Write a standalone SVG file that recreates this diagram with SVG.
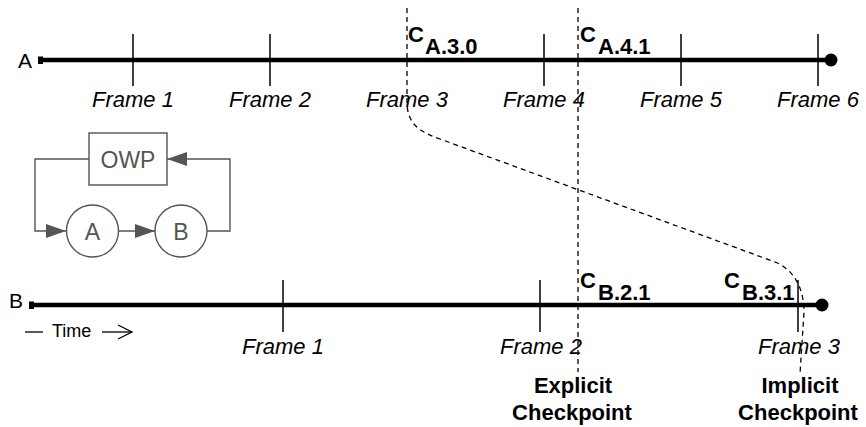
<svg xmlns="http://www.w3.org/2000/svg" width="866" height="427" viewBox="0 0 866 427">
<style>
text{font-family:"Liberation Sans",Arial,sans-serif;fill:#000}
.tl{stroke:#000;stroke-width:4.5;fill:none}
.tick{stroke:#000;stroke-width:1.5}
.fr{font-size:22px;font-style:italic;text-anchor:middle}
.c{font-size:22px;font-weight:bold}
.sub{font-size:22px;font-weight:bold}
.cp{font-size:22px;font-weight:bold;text-anchor:middle}
.dash{stroke:#000;stroke-width:1.3;stroke-dasharray:5,4;fill:none}
.g{stroke:#555;stroke-width:1.4;fill:none}
.gt{font-size:23px;fill:#555;text-anchor:middle}
.lbl{font-size:21px}
</style>
<defs>
<marker id="ah" markerWidth="20" markerHeight="14" refX="20" refY="7" orient="auto" markerUnits="userSpaceOnUse">
<path d="M0,0 L20,7 L0,14 Z" fill="#555"/>
</marker>
</defs>

<g id="timelineA">
<text class="lbl" x="18" y="68">A</text>
<rect x="38" y="56.5" width="5" height="7.5" fill="#000"/>
<line class="tl" x1="40" y1="60" x2="831" y2="60"/>
<circle cx="831" cy="60" r="6.5" fill="#000"/>
<line class="tick" x1="133" y1="34" x2="133" y2="86"/>
<line class="tick" x1="270" y1="34" x2="270" y2="86"/>
<line class="tick" x1="544" y1="34" x2="544" y2="86"/>
<line class="tick" x1="681" y1="34" x2="681" y2="86"/>
<line class="tick" x1="818" y1="34" x2="818" y2="86"/>
<text class="fr" x="133" y="107">Frame 1</text>
<text class="fr" x="270" y="107">Frame 2</text>
<text class="fr" x="407" y="107">Frame 3</text>
<text class="fr" x="544" y="107">Frame 4</text>
<text class="fr" x="681" y="107">Frame 5</text>
<text class="fr" x="818" y="107">Frame 6</text>
<text class="c" x="408" y="42">C</text>
<text class="sub" x="425" y="54">A.3.0</text>
<text class="c" x="580" y="42">C</text>
<text class="sub" x="598" y="54">A.4.1</text>
</g>

<g id="timelineB">
<text class="lbl" x="9" y="308">B</text>
<rect x="29" y="301.5" width="5" height="7.5" fill="#000"/>
<line class="tl" x1="31" y1="305" x2="822" y2="305"/>
<circle cx="822" cy="305" r="6.5" fill="#000"/>
<line class="tick" x1="283" y1="280" x2="283" y2="332"/>
<line class="tick" x1="540" y1="280" x2="540" y2="332"/>
<line class="tick" x1="798" y1="280" x2="798" y2="332"/>
<text class="fr" x="283" y="354">Frame 1</text>
<text class="fr" x="541" y="354">Frame 2</text>
<text class="fr" x="799" y="354">Frame 3</text>
<text class="c" x="580" y="288">C</text>
<text class="sub" x="598" y="300">B.2.1</text>
<text class="c" x="724" y="288">C</text>
<text class="sub" x="742" y="300">B.3.1</text>
</g>

<g id="time-axis">
<line x1="25" y1="332" x2="43" y2="332" stroke="#000" stroke-width="1.3"/>
<text x="52" y="337" font-size="18">Time</text>
<line x1="102" y1="332" x2="132" y2="332" stroke="#000" stroke-width="1.3"/>
<path d="M118,325 L132,332 L118,339" stroke="#000" stroke-width="1.3" fill="none"/>
</g>

<g id="explicit-checkpoint">
<text class="cp" x="573" y="393">Explicit</text>
<text class="cp" x="572" y="420">Checkpoint</text>
</g>
<g id="implicit-checkpoint">
<text class="cp" x="800" y="393">Implicit</text>
<text class="cp" x="798" y="420">Checkpoint</text>
</g>

<g id="OWP">
<rect class="g" x="89" y="133" width="78" height="52"/>
<text class="gt" x="128" y="168">OWP</text>
</g>
<g id="nodeA">
<circle class="g" cx="92.5" cy="231" r="26"/>
<text class="gt" x="92.5" y="239.5">A</text>
</g>
<g id="nodeB">
<circle class="g" cx="181" cy="231" r="26"/>
<text class="gt" x="181" y="239.5">B</text>
</g>

<g id="connectors">
<path class="g" d="M89,159 H35 V231 H66" marker-end="url(#ah)"/>
<path class="g" d="M118.5,231 H155" marker-end="url(#ah)"/>
<path class="g" d="M207,231 H230 V159 H167" marker-end="url(#ah)"/>
<path class="dash" d="M578,8 V372"/>
<path class="dash" d="M407,8 V102 C407,124 420,132 440,139 L775,262 C795,270 804,290 804,312 L800,374"/>
</g>
</svg>
